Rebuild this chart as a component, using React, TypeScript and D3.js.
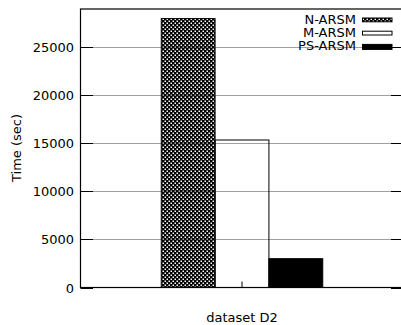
import * as d3 from "d3";
import { useEffect } from "react";

const groups = ["dataset D2"];
const seriesNames = ["N-ARSM", "M-ARSM", "PS-ARSM"];
const seriesValues = [28000, 15360, 3000];
const yTickValues = [0, 5000, 10000, 15000, 20000, 25000];

const W = 401;
const H = 325;
const margin = { top: 9, left: 80.5, right: 403.5, bottom: 287.5 };
const font = "'DejaVu Sans', sans-serif";

const App = () => {
  useEffect(() => {
    document.body.style.margin = "0";
  }, []);

  const x = d3.scaleLinear().domain([-3, 3]).range([margin.left, margin.right]);
  const y = d3.scaleLinear().domain([0, 29000]).range([margin.bottom, margin.top]);

  const band = d3
    .scaleBand()
    .domain(seriesNames)
    .range([x(-1.5), x(1.5)])
    .padding(0);

  const fills = ["url(#xhatch)", "none", "#000"];

  return (
    <svg width={W} height={H} style={{ display: "block", fontFamily: font }}>
      <defs>
        {/* black crosshatch with transparent holes */}
        <pattern id="xhatch" patternUnits="userSpaceOnUse" width={4} height={4}>
          <path
            d="M0,0H4V4H0Z M0.5,0.5H2V2H0.5Z M2.5,2.5H4V4H2.5Z"
            fill="#000"
            fillRule="evenodd"
          />
        </pattern>
      </defs>

      {/* grid */}
      {yTickValues.slice(1).map((t) => (
        <line
          key={"g" + t}
          x1={margin.left}
          x2={margin.right}
          y1={Math.round(y(t)) + 0.5}
          y2={Math.round(y(t)) + 0.5}
          stroke="#a0a0a0"
          strokeWidth={1}
        />
      ))}

      {/* bars */}
      {groups.map((g) =>
        seriesNames.map((s, i) => (
          <rect
            key={g + s}
            x={band(s)}
            y={y(seriesValues[i])}
            width={band.bandwidth()}
            height={y(0) - y(seriesValues[i])}
            fill={fills[i]}
            stroke="#000"
            strokeWidth={1}
          />
        ))
      )}

      {/* y ticks */}
      {yTickValues.map((t) => {
        const ty = Math.round(y(t)) + 0.5;
        return (
          <g key={"t" + t}>
            <line x1={margin.left} x2={margin.left + 12.5} y1={ty} y2={ty} stroke="#000" />
            <line x1={margin.right - 12.5} x2={margin.right} y1={ty} y2={ty} stroke="#000" />
            <text x={74} y={ty + 4.6} textAnchor="end" fontSize={13} fill="#000">
              {t}
            </text>
          </g>
        );
      })}

      {/* x tick */}
      <line x1={x(0)} x2={x(0)} y1={margin.bottom} y2={margin.bottom - 6} stroke="#000" />

      {/* frame */}
      <rect
        x={margin.left}
        y={margin.top}
        width={margin.right - margin.left}
        height={margin.bottom - margin.top}
        fill="none"
        stroke="#000"
        strokeWidth={1.2}
      />

      {/* legend */}
      {seriesNames.map((s, i) => {
        const base = 24 + i * 13.2;
        return (
          <g key={"l" + s}>
            <text x={356} y={base} textAnchor="end" fontSize={13} fill="#000">
              {s}
            </text>
            <rect
              x={362.5}
              y={base - 6}
              width={29.5}
              height={i === 2 ? 5 : 3.8}
              fill={fills[i]}
              stroke="#000"
              strokeWidth={1}
            />
          </g>
        );
      })}

      {/* axis labels */}
      <text
        transform={`translate(21,148) rotate(-90)`}
        textAnchor="middle"
        fontSize={13}
        fill="#000"
      >
        Time (sec)
      </text>
      <text x={x(0)} y={322} textAnchor="middle" fontSize={13} fill="#000">
        {groups[0]}
      </text>
    </svg>
  );
};

export default App;
